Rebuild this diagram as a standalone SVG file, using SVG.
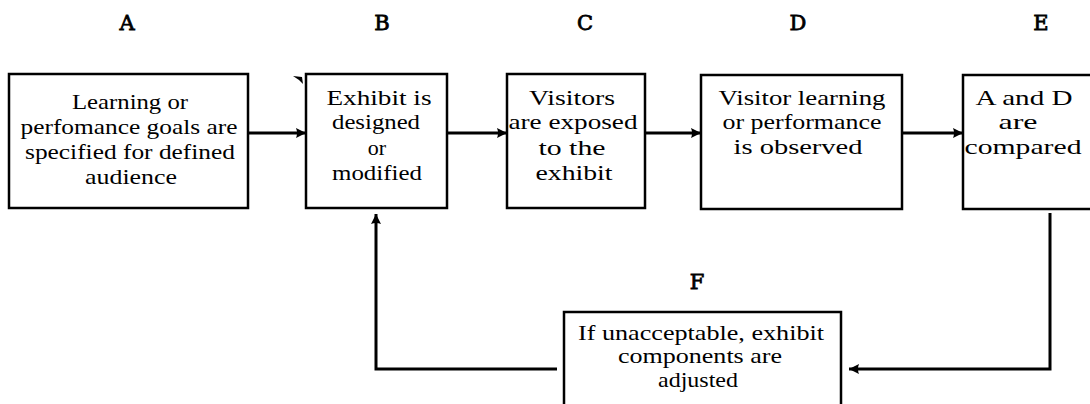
<svg xmlns="http://www.w3.org/2000/svg" width="1090" height="404" viewBox="0 0 1090 404">
  <style>
    .box { fill: #ffffff; stroke: #000000; stroke-width: 2.5; }
    .txt { font-family: "Liberation Serif", "Times New Roman", serif; font-size: 22px; fill: #000000; text-anchor: middle; }
    .tag { font-family: "DejaVu Serif", "Liberation Serif", serif; font-size: 21px; fill: #000000; stroke: #000000; stroke-width: 0.8; text-anchor: middle; }
    .wire { fill: none; stroke: #000000; stroke-width: 3; }
  </style>
  <defs>
    <marker id="head" markerUnits="userSpaceOnUse" markerWidth="12" markerHeight="12" refX="10" refY="6" orient="auto">
      <path d="M0,1 L10,6 L0,11 Q2,6 0,1 Z" fill="#000000"/>
    </marker>
  </defs>
  <rect width="1090" height="404" fill="#ffffff"/>

  <!-- column tags -->
  <text class="tag" x="127" y="30">A</text>
  <text class="tag" x="382" y="30">B</text>
  <text class="tag" x="585" y="30">C</text>
  <text class="tag" x="798" y="30">D</text>
  <text class="tag" x="1041" y="30">E</text>
  <text class="tag" x="697" y="289">F</text>

  <g id="node-a">
    <rect class="box" x="9" y="74" width="239" height="134"/>
    <text class="txt" x="130" y="109" textLength="116" lengthAdjust="spacingAndGlyphs">Learning or</text>
    <text class="txt" x="129" y="134" textLength="217" lengthAdjust="spacingAndGlyphs">perfomance goals are</text>
    <text class="txt" x="130" y="159" textLength="210" lengthAdjust="spacingAndGlyphs">specified for defined</text>
    <text class="txt" x="131" y="184" textLength="92" lengthAdjust="spacingAndGlyphs">audience</text>
  </g>

  <g id="node-b">
    <rect class="box" x="306" y="74" width="141" height="134"/>
    <text class="txt" x="379" y="105" textLength="105" lengthAdjust="spacingAndGlyphs">Exhibit is</text>
    <text class="txt" x="376" y="129" textLength="88" lengthAdjust="spacingAndGlyphs">designed</text>
    <text class="txt" x="377" y="155">or</text>
    <text class="txt" x="377" y="180" textLength="90" lengthAdjust="spacingAndGlyphs">modified</text>
  </g>

  <g id="node-c">
    <rect class="box" x="507" y="74" width="138" height="134"/>
    <text class="txt" x="572" y="105" textLength="86" lengthAdjust="spacingAndGlyphs">Visitors</text>
    <text class="txt" x="573" y="129" textLength="129" lengthAdjust="spacingAndGlyphs">are exposed</text>
    <text class="txt" x="572" y="155" textLength="67" lengthAdjust="spacingAndGlyphs">to the</text>
    <text class="txt" x="574" y="180" textLength="77" lengthAdjust="spacingAndGlyphs">exhibit</text>
  </g>

  <g id="node-d">
    <rect class="box" x="701" y="75" width="201" height="134"/>
    <text class="txt" x="802" y="105" textLength="167" lengthAdjust="spacingAndGlyphs">Visitor learning</text>
    <text class="txt" x="802" y="129" textLength="159" lengthAdjust="spacingAndGlyphs">or performance</text>
    <text class="txt" x="798" y="154" textLength="129" lengthAdjust="spacingAndGlyphs">is observed</text>
  </g>

  <g id="node-e">
    <rect class="box" x="963" y="75" width="140" height="134"/>
    <text class="txt" x="1024" y="105" textLength="97" lengthAdjust="spacingAndGlyphs">A and D</text>
    <text class="txt" x="1018" y="129" textLength="39" lengthAdjust="spacingAndGlyphs">are</text>
    <text class="txt" x="1023" y="154" textLength="117" lengthAdjust="spacingAndGlyphs">compared</text>
  </g>

  <g id="node-f">
    <rect class="box" x="564" y="312" width="277" height="110"/>
    <text class="txt" x="701" y="340" textLength="246" lengthAdjust="spacingAndGlyphs">If unacceptable, exhibit</text>
    <text class="txt" x="700" y="363" textLength="164" lengthAdjust="spacingAndGlyphs">components are</text>
    <text class="txt" x="698" y="387" textLength="80" lengthAdjust="spacingAndGlyphs">adjusted</text>
  </g>

  <g id="connectors">
    <line class="wire" x1="248" y1="133" x2="306" y2="133" marker-end="url(#head)"/>
    <line class="wire" x1="447" y1="133" x2="507" y2="133" marker-end="url(#head)"/>
    <line class="wire" x1="645" y1="133" x2="701" y2="133" marker-end="url(#head)"/>
    <line class="wire" x1="902" y1="133" x2="963" y2="133" marker-end="url(#head)"/>
    <path class="wire" d="M1050,213 V369 H849" marker-end="url(#head)"/>
    <path class="wire" d="M557,369 H376 V214" marker-end="url(#head)"/>
    <path d="M293,76 L302,77 L303,84 L299,80 Z" fill="#000000"/>
  </g>
</svg>
